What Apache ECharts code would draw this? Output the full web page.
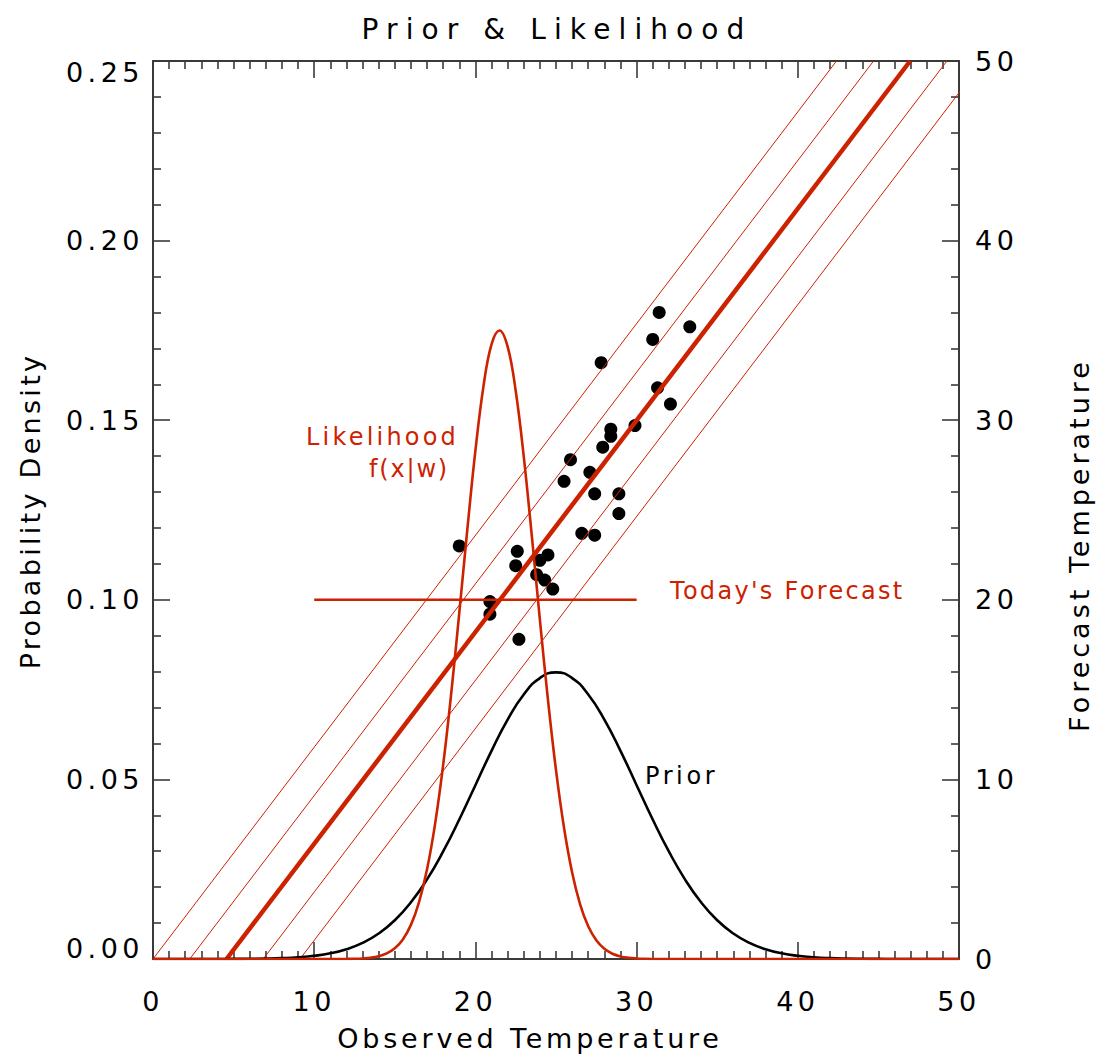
<!DOCTYPE html>
<html>
<head>
<meta charset="utf-8">
<title>Prior &amp; Likelihood</title>
<script src="https://cdn.jsdelivr.net/npm/echarts@6/dist/echarts.min.js"></script>
<style>
  html, body { margin: 0; padding: 0; background: #ffffff; }
  #chart { width: 1099px; height: 1060px; }
  /* wide, plotter-style lettering */
  #chart text { letter-spacing: 4.5px; }
</style>
</head>
<body>
<div id="chart"></div>
<script>
// ---- data -------------------------------------------------------------
// prior density of observed temperature
const priorX = [0, 1, 2, 3, 4, 5, 6, 7, 8, 9, 10, 11, 12, 13, 14, 15, 16, 17, 18, 19, 20,
  21, 22, 23, 24, 25, 26, 27, 28, 29, 30, 31, 32, 33, 34, 35, 36, 37, 38, 39, 40,
  41, 42, 43, 44, 45, 46, 47, 48, 49, 50];
const priorY = [0, 0, 0, 0, 0, 0.00003, 0.00006, 0.00012, 0.00025, 0.00048, 0.00089,
  0.00158, 0.00272, 0.00448, 0.00709, 0.0108, 0.01579, 0.02218, 0.02995, 0.03884, 0.04839,
  0.05794, 0.06665, 0.07365, 0.07821, 0.07979, 0.07821, 0.07365, 0.06665, 0.05794, 0.04839,
  0.03884, 0.02995, 0.02218, 0.01579, 0.0108, 0.00709, 0.00448, 0.00272, 0.00158, 0.00089,
  0.00048, 0.00025, 0.00012, 0.00006, 0.00003, 0, 0, 0, 0, 0];

// likelihood of today's forecast, f(x|w)
const likeX = [0, 11, 11.5, 12, 12.5, 13, 13.5, 14, 14.5, 15, 15.5, 16, 16.5, 17, 17.5, 18,
  18.5, 19, 19.5, 20, 20.5, 21, 21.5, 22, 22.5, 23, 23.5, 24, 24.5, 25, 25.5, 26, 26.5,
  27, 27.5, 28, 28.5, 29, 29.5, 30, 30.5, 31, 32, 50];
const likeY = [0, 0, 0.00001, 0.00003, 0.00007, 0.00016, 0.00036, 0.00077, 0.00155, 0.00298,
  0.00545, 0.0095, 0.01578, 0.02496, 0.03763, 0.05404, 0.07394, 0.09636, 0.11963, 0.14151,
  0.15943, 0.17113, 0.17499, 0.17047, 0.15821, 0.13986, 0.11779, 0.0945, 0.07222, 0.05259,
  0.03648, 0.0241, 0.01517, 0.0091, 0.0052, 0.00283, 0.00147, 0.00072, 0.00034, 0.00015,
  0.00006, 0.00002, 0, 0];

// past cases: observed vs forecast temperature
const obsTemp = [31.4, 33.3, 31.0, 27.8, 31.3, 32.1, 28.4, 28.4, 29.9, 27.9, 25.9, 27.1,
  25.5, 27.4, 28.9, 28.9, 26.6, 27.4, 19.0, 22.6, 24.5, 22.5, 24.0, 23.8, 24.3, 24.8,
  20.9, 20.9, 22.7];
const fcstTemp = [36.0, 35.2, 34.5, 33.2, 31.8, 30.9, 29.5, 29.1, 29.7, 28.5, 27.8, 27.1,
  26.6, 25.9, 25.9, 24.8, 23.7, 23.6, 23.0, 22.7, 22.5, 21.9, 22.2, 21.4, 21.1, 20.6,
  19.9, 19.2, 17.8];

// regression of forecast on observation, and the parallel spread lines
const fitLine = [[4.56, 0], [46.97, 50]];
const spreadLines = [
  [[0.0, 0], [42.4, 50]],
  [[2.28, 0], [44.7, 50]],
  [[6.84, 0], [49.25, 50]],
  [[9.12, 0], [51.5, 50]]
];

// today's forecast (drawn at density 0.10 across 10..30)
const todayForecast = [[10, 0.10], [30, 0.10]];

// tick labels
const tempLabels = ['0', '10', '20', '30', '40', '50'];
const densityLabels = ['0.00', '0.05', '0.10', '0.15', '0.20', '0.25'];

// ---- styling -------------------------------------------------------------
const FONT = 'DejaVu Sans';
const RED = '#cc2200';
const AXIS = '#3a3a3a';

// letter pitch per text (anything not listed keeps the stylesheet value)
const letterPitch = {
  'Prior & Likelihood': '8.1px',
  'Observed Temperature': '3.8px',
  'Probability Density': '3.3px',
  'Forecast Temperature': '4.0px',
  'Likelihood': '3.2px',
  'f(x|w)': '1.8px',
  "Today's Forecast": '2.3px',
  'Prior': '3.6px'
};

const labelStyle = { fontFamily: FONT, fontSize: 27, color: '#000' };
const nameFont = '27px "' + FONT + '"';
const annotFont = '24px "' + FONT + '"';

function frameAxis(extra) {
  return Object.assign({
    type: 'value',
    splitLine: { show: false },
    axisLine: { show: true, onZero: false, lineStyle: { color: AXIS, width: 2 } },
    axisTick: { show: true, inside: true, length: 17, lineStyle: { color: AXIS, width: 1.6 } },
    minorSplitLine: { show: false }
  }, extra);
}

function minor(n) {
  return { show: true, splitNumber: n, length: 8, lineStyle: { color: AXIS, width: 1.6 } };
}

const chart = echarts.init(document.getElementById('chart'), null, { renderer: 'svg' });

const series = [];
spreadLines.forEach(function (seg) {
  series.push({
    type: 'line', xAxisIndex: 0, yAxisIndex: 1, data: seg,
    showSymbol: false, silent: true, clip: true,
    lineStyle: { color: RED, width: 1 }
  });
});
series.push({
  type: 'line', xAxisIndex: 0, yAxisIndex: 1, data: fitLine,
  showSymbol: false, silent: true, clip: true,
  lineStyle: { color: RED, width: 4.5 }
});
series.push({
  name: 'Prior', type: 'line', xAxisIndex: 0, yAxisIndex: 0,
  data: priorX.map(function (x, i) { return [x, priorY[i]]; }),
  smooth: 0.5, showSymbol: false, silent: true,
  lineStyle: { color: '#000', width: 2.6 }
});
series.push({
  name: 'Likelihood', type: 'line', xAxisIndex: 0, yAxisIndex: 0,
  data: likeX.map(function (x, i) { return [x, likeY[i]]; }),
  smooth: 0.4, showSymbol: false, silent: true,
  lineStyle: { color: RED, width: 2.6 }
});
series.push({
  name: "Today's Forecast", type: 'line', xAxisIndex: 0, yAxisIndex: 0,
  data: todayForecast, showSymbol: false, silent: true,
  lineStyle: { color: RED, width: 2.6 }
});
series.push({
  type: 'scatter', xAxisIndex: 0, yAxisIndex: 1,
  data: obsTemp.map(function (x, i) { return [x, fcstTemp[i]]; }),
  symbol: 'circle', symbolSize: 13, silent: true,
  itemStyle: { color: '#000', opacity: 1 }
});

// end labels of the density axis sit inside the frame
function densityLabel(v) {
  const i = Math.round(v / 0.05);
  const s = densityLabels[i];
  if (i === 0) return '{lo|' + s + '}';
  if (i === densityLabels.length - 1) return '{hi|' + s + '}';
  return s;
}

chart.setOption({
  animation: false,
  backgroundColor: '#ffffff',
  title: {
    text: 'Prior & Likelihood',
    left: 552, top: 10, textAlign: 'center',
    textStyle: { fontFamily: FONT, fontSize: 28, fontWeight: 'normal', color: '#000' }
  },
  grid: { left: 153, right: 140, top: 61, bottom: 101, containLabel: false },
  xAxis: [
    frameAxis({
      position: 'bottom', min: 0, max: 50, interval: 10,
      minorTick: minor(10),
      axisLabel: Object.assign({ margin: 29, formatter: function (v) { return tempLabels[Math.round(v / 10)]; } }, labelStyle)
    }),
    frameAxis({
      position: 'top', min: 0, max: 50, interval: 10,
      minorTick: minor(10),
      axisLabel: { show: false }
    })
  ],
  yAxis: [
    frameAxis({
      position: 'left', min: 0, max: 0.25, interval: 0.05,
      minorTick: minor(5),
      axisLabel: Object.assign({
        margin: 9, formatter: densityLabel,
        rich: {
          lo: { fontFamily: FONT, fontSize: 27, color: '#000', padding: [0, 0, 22, 0] },
          hi: { fontFamily: FONT, fontSize: 27, color: '#000', padding: [22, 0, 0, 0] }
        }
      }, labelStyle)
    }),
    frameAxis({
      position: 'right', min: 0, max: 50, interval: 10,
      minorTick: minor(5),
      axisLabel: Object.assign({ margin: 16, formatter: function (v) { return tempLabels[Math.round(v / 10)]; } }, labelStyle)
    })
  ],
  graphic: [
    { type: 'text', x: 530, y: 1038, silent: true,
      style: { text: 'Observed Temperature', fill: '#000', font: nameFont, align: 'center', verticalAlign: 'middle' } },
    { type: 'text', x: 30, y: 511, rotation: Math.PI / 2, silent: true,
      style: { text: 'Probability Density', fill: '#000', font: nameFont, align: 'center', verticalAlign: 'middle' } },
    { type: 'text', x: 1079, y: 545, rotation: Math.PI / 2, silent: true,
      style: { text: 'Forecast Temperature', fill: '#000', font: nameFont, align: 'center', verticalAlign: 'middle' } },
    { type: 'text', x: 459, y: 437, silent: true,
      style: { text: 'Likelihood', fill: RED, font: annotFont, align: 'right', verticalAlign: 'middle' } },
    { type: 'text', x: 449, y: 469, silent: true,
      style: { text: 'f(x|w)', fill: RED, font: annotFont, align: 'right', verticalAlign: 'middle' } },
    { type: 'text', x: 670, y: 591, silent: true,
      style: { text: "Today's Forecast", fill: RED, font: annotFont, align: 'left', verticalAlign: 'middle' } },
    { type: 'text', x: 645, y: 776, silent: true,
      style: { text: 'Prior', fill: '#000', font: annotFont, align: 'left', verticalAlign: 'middle' } }
  ],
  series: series
});

function applyLetterPitch() {
  document.querySelectorAll('#chart text').forEach(function (t) {
    const p = letterPitch[t.textContent];
    if (p) { t.style.letterSpacing = p; }
  });
}
applyLetterPitch();
chart.on('finished', applyLetterPitch);
</script>
</body>
</html>
